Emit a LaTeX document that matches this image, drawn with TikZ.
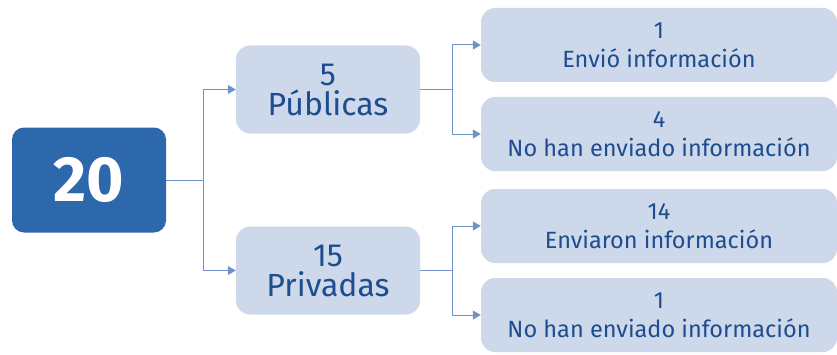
\documentclass[tikz,border=0pt]{standalone}
\usepackage{fontspec}
\setmainfont{Fira Sans}
\usepackage{tikz}
\usetikzlibrary{trees,arrows.meta}
\definecolor{darkbox}{HTML}{2D68AC}
\definecolor{lightbox}{HTML}{CDD9EA}
\definecolor{boxtext}{HTML}{1D4C8F}
\definecolor{linecol}{HTML}{6F93C8}

\begin{document}
\begin{tikzpicture}
[x = 1pt, y = 1pt, grow' = 0]
\tikzset{
	root node/.style = {rectangle, rounded corners = 12pt, fill = darkbox, text = white, minimum width = 154pt, minimum height = 105pt, font = \fontsize{64}{64}\selectfont\bfseries},
	group node/.style = {rectangle, rounded corners = 14pt, fill = lightbox, text = boxtext, minimum width = 184pt, minimum height = 88pt, align = center, inner sep = 0pt, font = \fontsize{32}{30}\selectfont},
	leaf node/.style = {rectangle, rounded corners = 14pt, fill = lightbox, text = boxtext, minimum width = 356pt, minimum height = 74pt, align = center, inner sep = 0pt, font = \fontsize{23.5}{29}\selectfont},
	edge from parent/.style = {draw, linecol, line width = 1pt, -{Triangle[length = 8pt, width = 9pt]}},
	level 1/.style = {level distance = 239pt, sibling distance = 181pt,
		edge from parent path = {(\tikzparentnode.east) -- ++(37pt,0) |- (\tikzchildnode.west)}},
	level 2/.style = {level distance = 331pt, sibling distance = 89pt,
		edge from parent path = {(\tikzparentnode.east) -- ++(32pt,0) |- (\tikzchildnode.west)}},
}
\useasboundingbox (0,0) rectangle (837,354);

\node(0)[root node] at (89,174) {20}
	child{node [group node]{5\\Públicas}
		child{node [leaf node]{1\\Envió información}}
		child{node [leaf node]{4\\No han enviado información}}
	}
	child{node [group node]{15\\Privadas}
		child{node [leaf node]{14\\Enviaron información}}
		child{node [leaf node]{1\\No han enviado información}}
	}
;

\end{tikzpicture}
\end{document}
